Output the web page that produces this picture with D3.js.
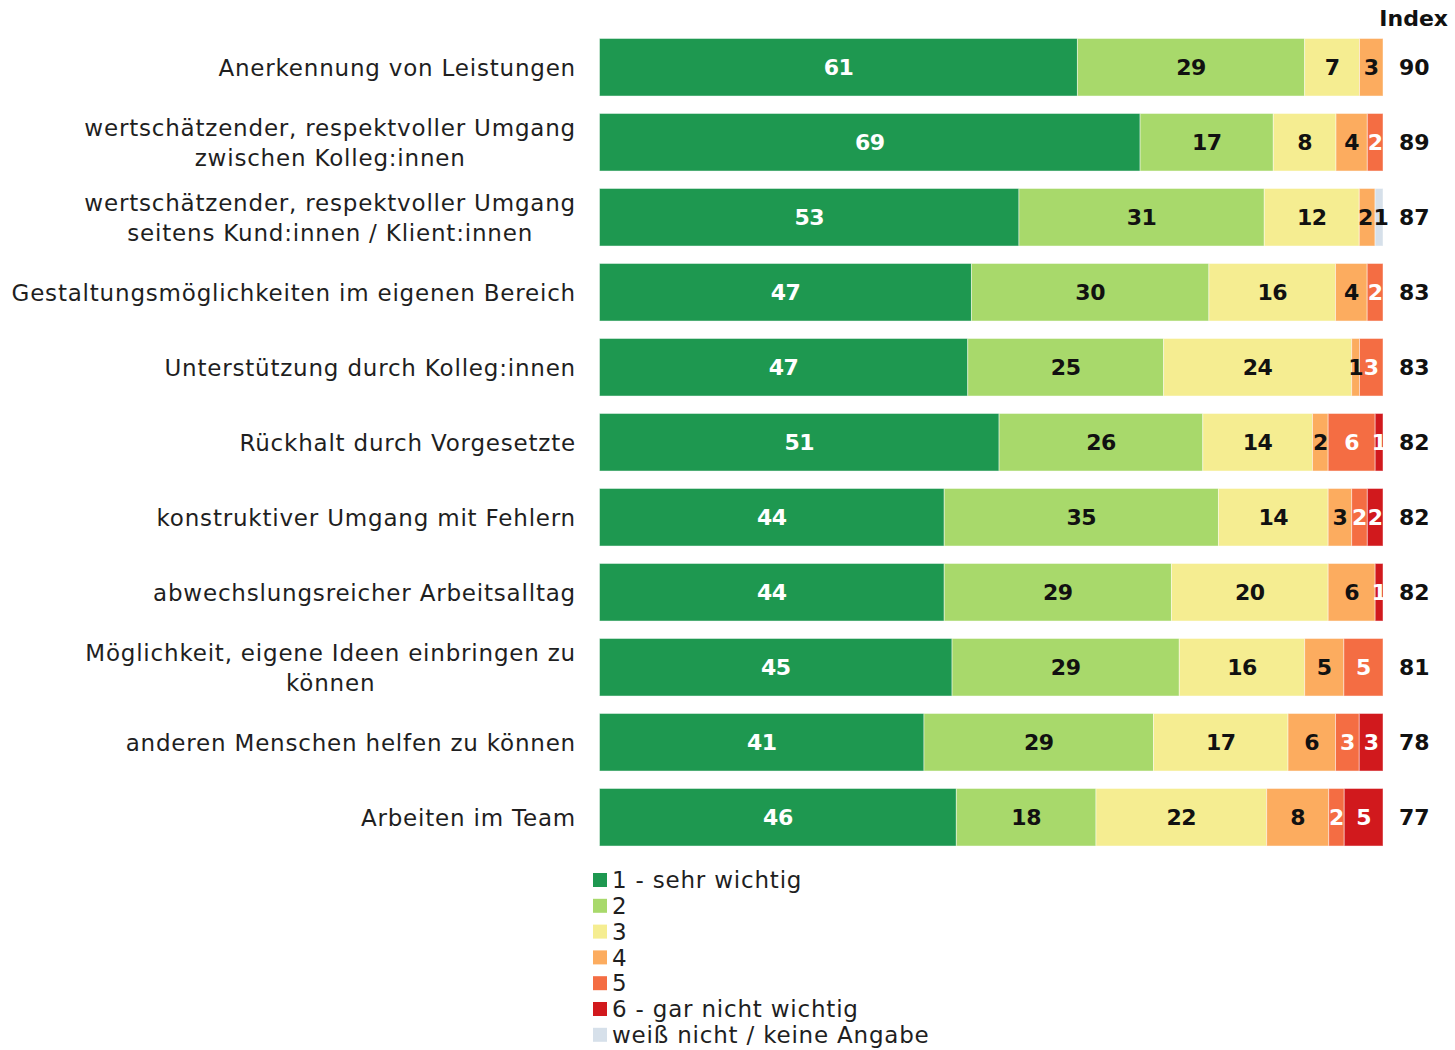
<!DOCTYPE html>
<html lang="de">
<head>
<meta charset="utf-8">
<script src="https://cdn.jsdelivr.net/npm/d3@7"></script>
<style>
  html, body { margin: 0; padding: 0; background: #ffffff; }
  svg { display: block; }
  text { font-family: "DejaVu Sans", "Noto Sans", sans-serif; }
</style>
</head>
<body>
<svg id="chart" width="1455" height="1050"></svg>
<script>
// Items (each entry is a list of label lines)
const categories = [
  ["Anerkennung von Leistungen"],
  ["wertschätzender, respektvoller Umgang", "zwischen Kolleg:innen"],
  ["wertschätzender, respektvoller Umgang", "seitens Kund:innen / Klient:innen"],
  ["Gestaltungsmöglichkeiten im eigenen Bereich"],
  ["Unterstützung durch Kolleg:innen"],
  ["Rückhalt durch Vorgesetzte"],
  ["konstruktiver Umgang mit Fehlern"],
  ["abwechslungsreicher Arbeitsalltag"],
  ["Möglichkeit, eigene Ideen einbringen zu", "können"],
  ["anderen Menschen helfen zu können"],
  ["Arbeiten im Team"]
];

// Answer scale
const keys = ["1 - sehr wichtig", "2", "3", "4", "5", "6 - gar nicht wichtig", "weiß nicht / keine Angabe"];

// Percentages per answer, one array per answer, in item order
const v1 = [61, 69, 53, 47, 47, 51, 44, 44, 45, 41, 46];
const v2 = [29, 17, 31, 30, 25, 26, 35, 29, 29, 29, 18];
const v3 = [ 7,  8, 12, 16, 24, 14, 14, 20, 16, 17, 22];
const v4 = [ 3,  4,  2,  4,  1,  2,  3,  6,  5,  6,  8];
const v5 = [ 0,  2,  0,  2,  3,  6,  2,  0,  5,  3,  2];
const v6 = [ 0,  0,  0,  0,  0,  1,  2,  1,  0,  3,  5];
const vNA = [0,  0,  1,  0,  0,  0,  0,  0,  0,  0,  0];

// Index per item
const indexValues = [90, 89, 87, 83, 83, 82, 82, 82, 81, 78, 77];

const colors = ["#1e9850", "#a8d96b", "#f5ed91", "#fcac5f", "#f46d43", "#d1191d", "#d6e0ea"];
const labelColors = ["#ffffff", "#111111", "#111111", "#111111", "#ffffff", "#ffffff", "#111111"];

const series = [v1, v2, v3, v4, v5, v6, vNA];
const rows = categories.map((c, i) => {
  const r = { id: i };
  keys.forEach((k, j) => { r[k] = series[j][i]; });
  return r;
});

const svg = d3.select("#chart");

const x = d3.scaleLinear().domain([0, 1]).range([599.5, 1383]);
const y = d3.scaleBand()
  .domain(d3.range(categories.length))
  .range([29.75, 29.75 + 75 * categories.length])
  .paddingInner(0.233)
  .paddingOuter(0.1165);

const color = d3.scaleOrdinal().domain(keys).range(colors);
const labelColor = d3.scaleOrdinal().domain(keys).range(labelColors);

const stacked = d3.stack().keys(keys).offset(d3.stackOffsetExpand)(rows);

// Bars
const layers = svg.append("g").selectAll("g")
  .data(stacked)
  .join("g")
  .attr("fill", d => color(d.key));

layers.selectAll("rect")
  .data(d => d.filter(s => s[1] - s[0] > 0))
  .join("rect")
  .attr("x", s => x(s[0]))
  .attr("y", s => y(s.data.id))
  .attr("width", s => x(s[1]) - x(s[0]))
  .attr("height", y.bandwidth())
  .attr("stroke", "rgba(255,255,255,0.45)")
  .attr("stroke-width", 1);

// Segment value labels
const labelLayers = svg.append("g").selectAll("g")
  .data(stacked)
  .join("g")
  .attr("fill", d => labelColor(d.key));

const segLabels = labelLayers.selectAll("text")
  .data(d => d.map(s => ({ s, key: d.key })).filter(o => o.s.data[o.key] > 0))
  .join("text")
  .attr("x", o => (x(o.s[0]) + x(o.s[1])) / 2)
  .attr("y", o => y(o.s.data.id) + y.bandwidth() / 2)
  .attr("dy", "0.36em")
  .attr("text-anchor", "middle")
  .attr("font-size", 22)
  .attr("font-weight", "bold")
  .attr("letter-spacing", -0.5)
  .text(o => o.s.data[o.key]);

// Push apart neighbouring labels in the same row when thin segments make them collide
const byRow = d3.group(segLabels.nodes(), n => d3.select(n).datum().s.data.id);
byRow.forEach(nodes => {
  nodes.sort((a, b) => +a.getAttribute("x") - +b.getAttribute("x"));
  for (let k = 1; k < nodes.length; k++) {
    const a = nodes[k - 1].getBBox(), b = nodes[k].getBBox();
    const overlap = a.x + a.width - b.x;
    if (overlap > 0) {
      const shift = overlap / 2 + 0.3;
      nodes[k - 1].setAttribute("x", +nodes[k - 1].getAttribute("x") - shift);
      nodes[k].setAttribute("x", +nodes[k].getAttribute("x") + shift);
    }
  }
});

// Category labels: multi-line labels are centred within their own block, right edge at 576
const labelRight = 576;
const lineGap = 30;
const catG = svg.append("g")
  .attr("fill", "#1f1f1f")
  .attr("font-size", 23)
  .attr("letter-spacing", 0.8);
categories.forEach((lines, i) => {
  const t = catG.append("text");
  const cy = y(i) + y.bandwidth() / 2;
  const top = cy - (lines.length - 1) * lineGap / 2;
  lines.forEach((ln, k) => {
    t.append("tspan").attr("y", top + k * lineGap).attr("dy", "0.36em").text(ln);
  });
  const widths = [];
  t.selectAll("tspan").each(function () { widths.push(this.getComputedTextLength()); });
  const w = d3.max(widths);
  if (lines.length > 1) {
    t.attr("text-anchor", "middle");
    t.selectAll("tspan").attr("x", labelRight - w / 2);
  } else {
    t.attr("text-anchor", "end");
    t.selectAll("tspan").attr("x", labelRight);
  }
});

// Index column
svg.append("text")
  .attr("x", 1448)
  .attr("y", 18)
  .attr("dy", "0.36em")
  .attr("text-anchor", "end")
  .attr("font-size", 22)
  .attr("font-weight", "bold")
  .attr("fill", "#111")
  .text("Index");

svg.append("g").selectAll("text")
  .data(indexValues)
  .join("text")
  .attr("x", 1399)
  .attr("y", (d, i) => y(i) + y.bandwidth() / 2)
  .attr("dy", "0.36em")
  .attr("font-size", 22)
  .attr("font-weight", "bold")
  .attr("fill", "#111")
  .text(d => d);

// Legend
const legend = svg.append("g").attr("transform", "translate(593, 880)");
const li = legend.selectAll("g")
  .data(keys)
  .join("g")
  .attr("transform", (d, i) => `translate(0, ${i * 25.8})`);
li.append("rect")
  .attr("x", 0).attr("y", -7)
  .attr("width", 14).attr("height", 14)
  .attr("fill", d => color(d));
li.append("text")
  .attr("x", 19)
  .attr("dy", "0.36em")
  .attr("font-size", 23)
  .attr("letter-spacing", 0.8)
  .attr("fill", "#1f1f1f")
  .text(d => d);
</script>
</body>
</html>
